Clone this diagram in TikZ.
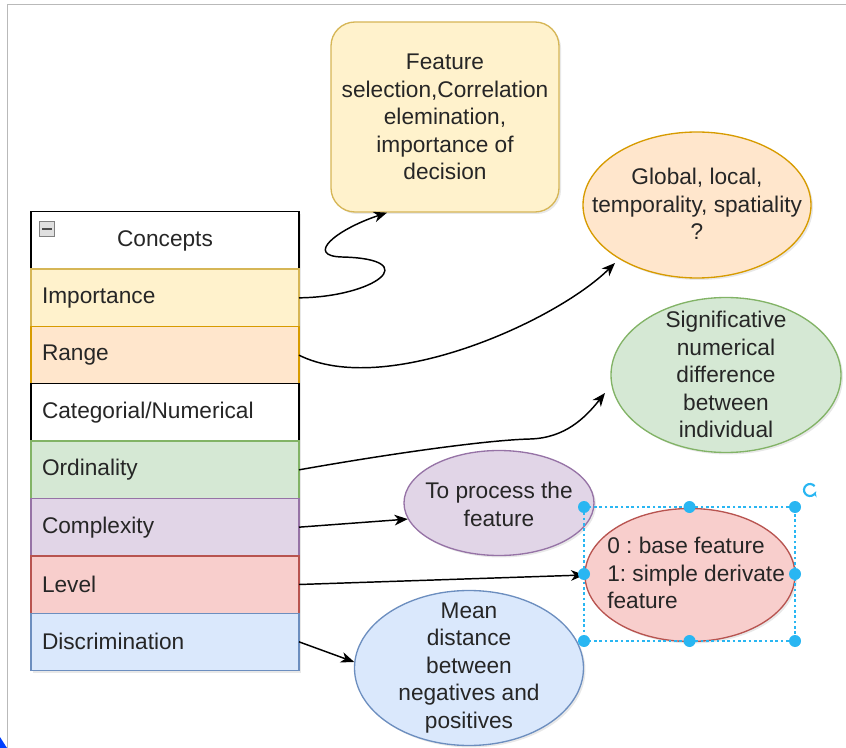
\documentclass[tikz,border=0pt]{standalone}
\usepackage{fontspec}
\setmainfont{Liberation Sans}
\usetikzlibrary{positioning,shapes.geometric,arrows.meta,shadows,calc}

\definecolor{yelfill}{HTML}{FFF2CC}
\definecolor{yeldraw}{HTML}{D6B656}
\definecolor{orafill}{HTML}{FFE6CC}
\definecolor{oradraw}{HTML}{D79B00}
\definecolor{grefill}{HTML}{D5E8D4}
\definecolor{gredraw}{HTML}{82B366}
\definecolor{purfill}{HTML}{E1D5E7}
\definecolor{purdraw}{HTML}{9673A6}
\definecolor{redfill}{HTML}{F8CECC}
\definecolor{reddraw}{HTML}{B85450}
\definecolor{blufill}{HTML}{DAE8FC}
\definecolor{bludraw}{HTML}{6C8EBF}
\definecolor{selblue}{HTML}{29B6F2}

\begin{document}
\begin{tikzpicture}[x=0.75pt,y=-0.75pt,
every node/.style={font=\fontsize{17}{20.6}\selectfont\frenchspacing, text=black!85},
shade/.style={drop shadow={opacity=0.18,shadow xshift=1.5pt,shadow yshift=-1.5pt}},
row/.style={draw, shade, line width=1pt, outer sep=0pt, minimum width=201pt, minimum height=43pt,
  text width=184.5pt, inner xsep=8.25pt, inner ysep=0pt, align=left},
bubble/.style={ellipse, draw, shade, line width=1pt, inner sep=0pt},
link/.style={line width=1.1pt, -{Stealth[length=10pt,width=8pt,inset=3pt]}},
handle/.style={circle, fill=selblue, inner sep=0pt, minimum size=9pt}]

\useasboundingbox (0,0) rectangle (846,748);
\draw[gray!55, line width=0.8pt] (7.5,748) -- (7.5,4.5) -- (846,4.5);
\fill[blue!75!cyan] (0,737) -- (7,748) -- (0,748) -- cycle;

% the concept table
\node[row, fill=white, align=center] (concepts) at (165,240.5) {Concepts};
\node[draw=gray, fill=gray!25, minimum size=11pt, inner sep=0pt] (fold) at (47,229) {};
\draw[black!70, line width=1.6pt] ([xshift=-3.5pt]fold.center) -- ([xshift=3.5pt]fold.center);
\node[row, fill=yelfill, draw=yeldraw, below=0pt of concepts] (importance) {Importance};
\node[row, fill=orafill, draw=oradraw, below=0pt of importance] (range) {Range};
\node[row, fill=white, below=0pt of range] (categorial) {Categorial/Numerical};
\node[row, fill=grefill, draw=gredraw, below=0pt of categorial] (ordinality) {Ordinality};
\node[row, fill=purfill, draw=purdraw, below=0pt of ordinality] (complexity) {Complexity};
\node[row, fill=redfill, draw=reddraw, below=0pt of complexity] (level) {Level};
\node[row, fill=blufill, draw=bludraw, below=0pt of level] (discrimination) {Discrimination};

% descriptions
\node[draw=yeldraw, fill=yelfill, shade, line width=1pt, rounded corners=18pt,
  minimum width=171pt, minimum height=142.5pt, align=center] (feature) at (445,117)
  {Feature\\selection,Correlation\\elemination,\\importance of\\decision};

\node[bubble, fill=orafill, draw=oradraw, minimum width=171pt, minimum height=109.5pt] (global) at (697,205) {};
\node[align=center] (globaltxt) at (697,204) {Global, local,\\temporality, spatiality\\?};

\node[bubble, fill=grefill, draw=gredraw, minimum width=172.5pt, minimum height=116.25pt] (signif) at (726,375) {};
\node[align=center] (signiftxt) at (726,374.5) {Significative\\numerical\\difference\\between\\individual};

\node[bubble, fill=purfill, draw=purdraw, minimum width=142.5pt, minimum height=78.75pt] (process) at (499,503) {};
\node[align=center] (processtxt) at (499,504.5) {To process the\\feature};

\node[bubble, fill=redfill, draw=reddraw, minimum width=157.5pt, minimum height=99.75pt] (derive) at (690,575) {};
\node[align=left, anchor=west, inner sep=0pt] (derivetxt) at (607,573) {0 : base feature\\1: simple derivate\\feature};

\node[bubble, fill=blufill, draw=bludraw, minimum width=171.75pt, minimum height=116.25pt] (mean) at (469,668) {};
\node[align=center] (meantxt) at (469,668) {Mean\\distance\\between\\negatives and\\positives};

% connectors
\draw[link] (importance.east) .. controls (375,297) and (425,259) .. (342,257)
  .. controls (305,256) and (335,230) .. ($(feature.south)+(-58,0)$);
\draw[link] (range.east) .. controls (385,398) and (555,322) .. (615,263);
\draw[link] (ordinality.east) .. controls (400,452) and (490,440) .. (530,439)
  .. controls (565,438) and (585,418) .. (605,393);
\draw[link] (complexity.east) -- (process.190);
\draw[link] (level.east) -- (derive.west);
\draw[link] (discrimination.east) -- (mean.177);

% selection of the red bubble
\draw[selblue, line width=1pt, dash pattern=on 2pt off 2pt] (584,507) rectangle (795,641);
\foreach \p in {(584,507),(689.5,507),(795,507),(584,574),(795,574),(584,641),(689.5,641),(795,641)}
  \node[handle] at \p {};
\draw[selblue, line width=1.6pt, -{Stealth[length=3.5pt,width=4pt]}] (810,490) ++(40:4.5pt) arc[start angle=40, end angle=340, radius=4.5pt];
\end{tikzpicture}
\end{document}
